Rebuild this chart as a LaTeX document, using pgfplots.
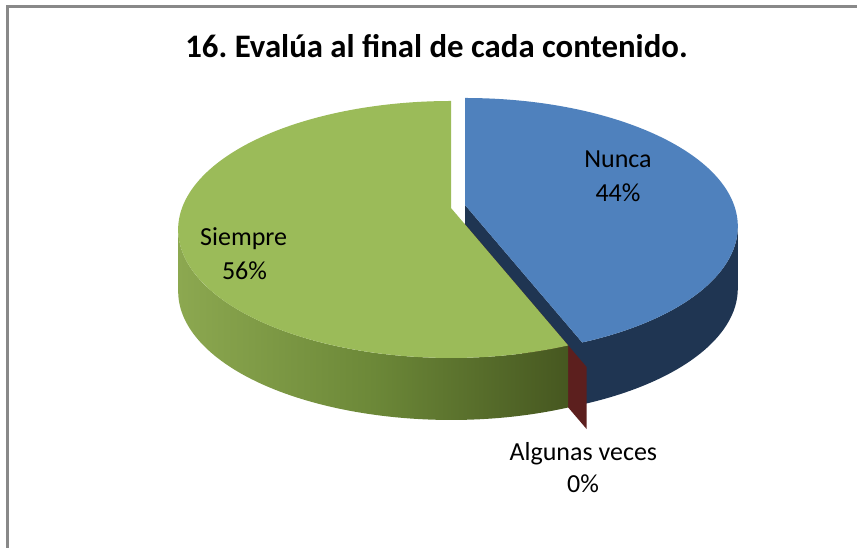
\documentclass[border=0pt]{standalone}
\usepackage{pgfplots}
\pgfplotsset{compat=1.18}
\usepackage{pgfplotstable}
\usepackage{fontspec}
\setmainfont{Carlito}
\frenchspacing

\definecolor{gtop}{HTML}{9BBB59}
\definecolor{gsideL}{HTML}{8CA850}
\definecolor{gsideM}{HTML}{6C8838}
\definecolor{gsideR}{HTML}{465720}
\definecolor{btop}{HTML}{4F81BD}
\definecolor{bside}{HTML}{1F3552}
\definecolor{rface}{HTML}{5C1F1E}
\definecolor{frame}{HTML}{898989}

\pgfplotstableread{
label value
Nunca 44
Algunas 0
Siempre 56
}\piedata

\begin{document}
\begin{tikzpicture}
% --- data
\pgfplotstablegetelem{0}{value}\of\piedata \pgfmathsetmacro\vN{\pgfplotsretval}
\pgfplotstablegetelem{1}{value}\of\piedata \pgfmathsetmacro\vA{\pgfplotsretval}
\pgfplotstablegetelem{2}{value}\of\piedata \pgfmathsetmacro\vS{\pgfplotsretval}
% --- geometry (pixel units)
\pgfmathsetmacro\pp{0.167}
\pgfmathsetmacro\cx{451}
\pgfmathsetmacro\cyv{208}
\pgfmathsetmacro\R{269}
\pgfmathsetmacro\KR{124.9}
\pgfmathsetmacro\hh{62}
\pgfmathsetmacro\qq{1-\pp*\pp}
\pgfmathsetmacro\rxe{\R/sqrt(\qq)}
\pgfmathsetmacro\rye{\KR/\qq}
\pgfmathsetmacro\vz{\pp/\qq}
\pgfmathsetmacro\cye{\cyv+\KR*\vz}
\pgfmathsetmacro\rxpt{0.5*\rxe}
\pgfmathsetmacro\rypt{0.5*\rye}
% slice boundary angle
\pgfmathsetmacro\thB{90-3.6*\vN}
\pgfmathsetmacro\thC{\thB-3.6*\vA}
\pgfmathsetmacro\uB{cos(\thB)/(1+\pp*sin(\thB))}
\pgfmathsetmacro\vB{sin(\thB)/(1+\pp*sin(\thB))}
\pgfmathsetmacro\phB{atan2((\vB+\vz)*\qq,\uB*sqrt(\qq))}
\pgfmathsetmacro\phBB{\phB+360}
% points
\pgfmathsetmacro\GtY{\cye-\rye}
\pgfmathsetmacro\GBx{\cx+\rxe*cos(\phB)}
\pgfmathsetmacro\GBy{\cye-\rye*sin(\phB)}
\pgfmathsetmacro\GBhy{\GBy+\hh}
\pgfmathsetmacro\GLx{\cx-\rxe}
% blue explosion (pixels)
\pgfmathsetmacro\bx{14}
\pgfmathsetmacro\by{-3}
\pgfmathsetmacro\BOx{\cx+\bx}
\pgfmathsetmacro\BOy{\cyv+\by}
\pgfmathsetmacro\BOhy{\BOy+\hh}
\pgfmathsetmacro\Bty{\GtY+\by}
\pgfmathsetmacro\BBx{\GBx+\bx}
\pgfmathsetmacro\BBy{\GBy+\by}
\pgfmathsetmacro\BBhy{\BBy+\hh}
\pgfmathsetmacro\BRx{\cx+\rxe+\bx}
\pgfmathsetmacro\BRhy{\cye+\by+\hh}
% red (0%) slice, exploded along its radius
\pgfmathsetmacro\ee{0.13}
\pgfmathsetmacro\ra{(1+\ee)*cos(\thC)}
\pgfmathsetmacro\rb{(1+\ee)*sin(\thC)}
\pgfmathsetmacro\RRx{\cx+\R*\ra/(1+\pp*\rb)}
\pgfmathsetmacro\RRy{\cyv-\KR*\rb/(1+\pp*\rb)}
\pgfmathsetmacro\RRhy{\RRy+\hh}
\pgfmathsetmacro\ia{\ee*cos(\thC)}
\pgfmathsetmacro\ib{\ee*sin(\thC)}
\pgfmathsetmacro\Rix{\cx+\R*\ia/(1+\pp*\ib)}
\pgfmathsetmacro\Riy{\cyv-\KR*\ib/(1+\pp*\ib)}
\pgfmathsetmacro\Rihy{\Riy+\hh}
\begin{axis}[
  scale only axis, width=428.5pt, height=274pt,
  xmin=0, xmax=857, ymin=0, ymax=548, y dir=reverse,
  hide axis, clip=false]
% frame
\draw[frame, line width=1.1pt] (axis cs:857,6.5) -- (axis cs:7.5,6.5) -- (axis cs:7.5,548);
% blue radial face
\fill[bside] (axis cs:\BOx,\BOy) -- (axis cs:\BBx,\BBy) -- (axis cs:\BBx,\BBhy) -- (axis cs:\BOx,\BOhy) -- cycle;
% blue side wall
\fill[bside] (axis cs:\BBx,\BBy) arc[start angle=\phB, end angle=0, x radius=\rxpt pt, y radius=\rypt pt]
  -- (axis cs:\BRx,\BRhy) arc[start angle=0, end angle=\phB, x radius=\rxpt pt, y radius=\rypt pt] -- cycle;
% blue top
\fill[btop] (axis cs:\BOx,\BOy) -- (axis cs:\BOx,\Bty) arc[start angle=90, end angle=\phB, x radius=\rxpt pt, y radius=\rypt pt] -- cycle;
% red face (0 %)
\fill[rface] (axis cs:\Rix,\Riy) -- (axis cs:\RRx,\RRy) -- (axis cs:\RRx,\RRhy) -- (axis cs:\Rix,\Rihy) -- cycle;
% green side wall
\shade[left color=gsideL, right color=gsideR, middle color=gsideM]
  (axis cs:\GLx,\cye) arc[start angle=180, end angle=\phBB, x radius=\rxpt pt, y radius=\rypt pt]
  -- (axis cs:\GBx,\GBhy) arc[start angle=\phBB, end angle=180, x radius=\rxpt pt, y radius=\rypt pt] -- cycle;
% green top
\fill[gtop] (axis cs:\cx,\cyv) -- (axis cs:\GBx,\GBy) arc[start angle=\phB, end angle=-270, x radius=\rxpt pt, y radius=\rypt pt] -- cycle;
% title and labels
\node[anchor=base, font=\fontsize{16.4}{19}\selectfont\bfseries] at (axis cs:436.5,57) {16. Evalúa al final de cada contenido.};
\node[anchor=base, font=\fontsize{13}{15}\selectfont] at (axis cs:618,167) {Nunca};
\node[anchor=base, font=\fontsize{13}{15}\selectfont] at (axis cs:618,201.7) {44\%};
\node[anchor=base, font=\fontsize{13}{15}\selectfont] at (axis cs:243.7,245.7) {Siempre};
\node[anchor=base, font=\fontsize{13}{15}\selectfont] at (axis cs:244.5,279) {56\%};
\node[anchor=base, font=\fontsize{13}{15}\selectfont] at (axis cs:583.3,460) {Algunas veces};
\node[anchor=base, font=\fontsize{13}{15}\selectfont] at (axis cs:583,492.7) {0\%};
\end{axis}
\pgfresetboundingbox
\useasboundingbox (0,0) rectangle (428.5pt,274pt);
\end{tikzpicture}
\end{document}
